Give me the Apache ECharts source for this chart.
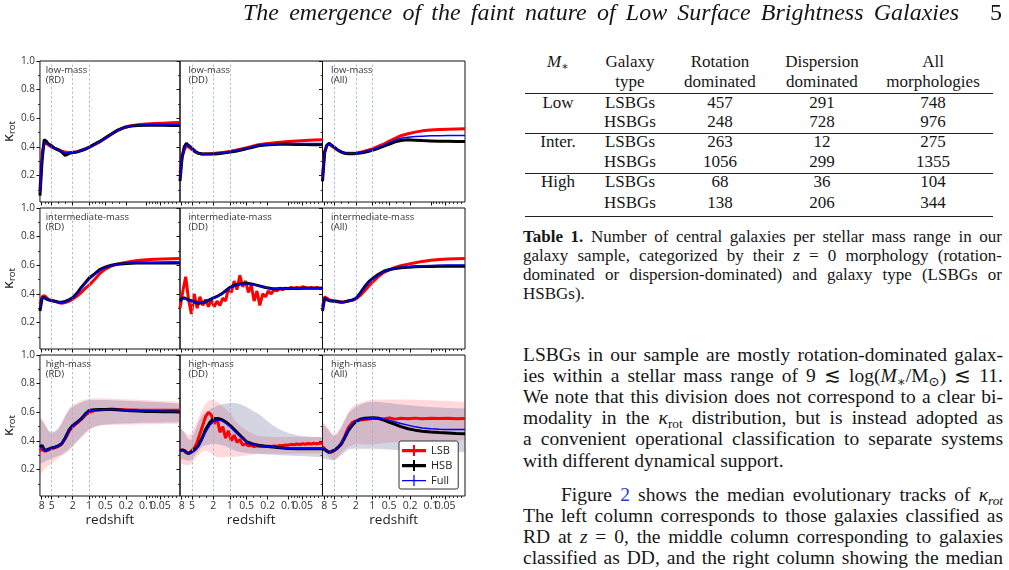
<!DOCTYPE html>
<html>
<head>
<meta charset="utf-8">
<title>kappa_rot tracks</title>
<style>
  body { margin: 0; background: #fff; }
  #page { position: relative; width: 1009px; height: 570px; overflow: hidden; background: #fff; color: #161616;
          font-family: "Liberation Serif", "DejaVu Serif", serif; }
  #main { position: absolute; left: 0; top: 0; width: 515px; height: 570px; }
  .t { position: absolute; white-space: nowrap; line-height: 1; }
  .rule { position: absolute; background: #222; }
  sub { font-size: 68%; vertical-align: -0.28em; line-height: 0; }
  .lnk { color: #2b3bd6; }
</style>
</head>
<body>
<div id="page"><div id="main"></div></div>
<script src="https://cdn.jsdelivr.net/npm/echarts@6/dist/echarts.min.js"></script>
<script>
// x is a position along the (non uniform) redshift axis, 0 = left edge, 100 = z=0
var zTickVal = ['8', '5', '2', '1', '0.5', '0.2', '0.1', '0.05'];
var zTickPos = [1.2, 8.4, 23.4, 35.0, 46.7, 61.5, 76.0, 86.0];
var zMinorPos = [3.6, 6.0, 13.4, 18.4, 37.3, 39.7, 42.0, 44.4, 51.6, 56.6, 78, 80, 82, 84, 88.8, 91.6, 94.4, 97.2];
var zLinePos = [8.4, 23.4, 35.0];
var kTicks = [0.2, 0.4, 0.6, 0.8, 1.0];
var kMinor = [0.1, 0.3, 0.5, 0.7, 0.9];

var U = [0, 1.5, 3, 4.5, 6, 8, 10.5, 13, 15.5, 18, 21, 23.5, 26.5, 29.5, 32.5, 35.5, 39, 43, 47, 51, 55, 60, 65, 70, 76, 82, 88, 94, 100];
var UF = [0, 2, 4, 6, 8, 10, 12, 14, 16, 18, 20, 22, 24, 26, 28, 30, 32, 34, 36, 38, 40, 42, 44, 46, 48, 50,
          52, 54, 56, 58, 60, 62, 64, 66, 68, 70, 72, 74, 76, 78, 80, 82, 84, 86, 88, 90, 92, 94, 96, 98, 100];

// low mass
var lowRD_LSB = [0.10, 0.36, 0.42, 0.425, 0.415, 0.40, 0.39, 0.38, 0.37, 0.365, 0.36, 0.362, 0.367, 0.375, 0.385, 0.398, 0.415, 0.437, 0.462, 0.488, 0.512, 0.535, 0.548, 0.555, 0.56, 0.563, 0.566, 0.568, 0.57];
var lowRD_HSB = [0.06, 0.30, 0.45, 0.44, 0.42, 0.41, 0.39, 0.38, 0.365, 0.34, 0.355, 0.36, 0.365, 0.375, 0.385, 0.40, 0.42, 0.44, 0.465, 0.49, 0.515, 0.535, 0.545, 0.55, 0.552, 0.552, 0.551, 0.55, 0.55];
var lowRD_Full = [0.08, 0.34, 0.42, 0.43, 0.415, 0.40, 0.39, 0.378, 0.367, 0.358, 0.358, 0.36, 0.366, 0.375, 0.385, 0.398, 0.416, 0.438, 0.463, 0.489, 0.513, 0.535, 0.546, 0.552, 0.555, 0.556, 0.557, 0.557, 0.557];

var lowDD_LSB = [0.22, 0.33, 0.38, 0.41, 0.40, 0.385, 0.365, 0.355, 0.35, 0.35, 0.352, 0.354, 0.357, 0.36, 0.365, 0.37, 0.376, 0.385, 0.395, 0.405, 0.415, 0.422, 0.428, 0.433, 0.437, 0.441, 0.445, 0.448, 0.45];
var lowDD_HSB = [0.16, 0.33, 0.40, 0.425, 0.41, 0.395, 0.37, 0.355, 0.35, 0.35, 0.35, 0.35, 0.352, 0.356, 0.36, 0.365, 0.37, 0.378, 0.388, 0.398, 0.408, 0.413, 0.416, 0.418, 0.418, 0.417, 0.416, 0.415, 0.415];
var lowDD_Full = [0.18, 0.32, 0.39, 0.415, 0.405, 0.39, 0.368, 0.355, 0.35, 0.35, 0.35, 0.352, 0.355, 0.358, 0.362, 0.367, 0.373, 0.381, 0.391, 0.401, 0.411, 0.417, 0.42, 0.422, 0.423, 0.423, 0.423, 0.423, 0.423];

var lowAll_LSB = [0.20, 0.37, 0.41, 0.42, 0.41, 0.395, 0.378, 0.365, 0.358, 0.355, 0.355, 0.357, 0.362, 0.37, 0.378, 0.388, 0.403, 0.42, 0.44, 0.46, 0.478, 0.492, 0.503, 0.512, 0.518, 0.521, 0.523, 0.525, 0.527];
var lowAll_HSB = [0.16, 0.36, 0.41, 0.425, 0.415, 0.40, 0.38, 0.365, 0.355, 0.352, 0.352, 0.353, 0.357, 0.363, 0.37, 0.378, 0.39, 0.405, 0.42, 0.435, 0.445, 0.45, 0.447, 0.444, 0.442, 0.44, 0.439, 0.438, 0.438];
var lowAll_Full = [0.18, 0.36, 0.41, 0.42, 0.412, 0.398, 0.38, 0.365, 0.356, 0.353, 0.353, 0.355, 0.36, 0.366, 0.374, 0.383, 0.396, 0.412, 0.43, 0.447, 0.46, 0.468, 0.472, 0.475, 0.477, 0.478, 0.479, 0.48, 0.48];

// intermediate mass
var intRD_LSB = [0.33, 0.38, 0.388, 0.375, 0.362, 0.355, 0.35, 0.34, 0.335, 0.34, 0.35, 0.365, 0.385, 0.41, 0.44, 0.465, 0.50, 0.545, 0.575, 0.595, 0.608, 0.618, 0.626, 0.633, 0.638, 0.642, 0.644, 0.646, 0.647];
var intRD_HSB = [0.28, 0.37, 0.375, 0.365, 0.358, 0.353, 0.348, 0.344, 0.342, 0.348, 0.36, 0.375, 0.405, 0.445, 0.48, 0.515, 0.54, 0.572, 0.588, 0.60, 0.607, 0.611, 0.614, 0.616, 0.616, 0.616, 0.616, 0.616, 0.616];
var intRD_Full = [0.30, 0.37, 0.378, 0.368, 0.36, 0.354, 0.348, 0.343, 0.34, 0.345, 0.357, 0.372, 0.40, 0.437, 0.472, 0.505, 0.533, 0.566, 0.585, 0.598, 0.607, 0.612, 0.616, 0.618, 0.619, 0.62, 0.621, 0.622, 0.622];

var intDD_LSB = [0.30, 0.42, 0.52, 0.36, 0.26, 0.40, 0.30, 0.38, 0.32, 0.36, 0.31, 0.36, 0.31, 0.35, 0.32, 0.37, 0.35, 0.44, 0.41, 0.49,
                 0.43, 0.53, 0.45, 0.49, 0.41, 0.46, 0.35, 0.42, 0.32, 0.40, 0.38, 0.42, 0.40, 0.43, 0.42, 0.44, 0.43, 0.44, 0.435, 0.445,
                 0.44, 0.445, 0.44, 0.45, 0.445, 0.44, 0.445, 0.44, 0.445, 0.44, 0.44];
var intDD_HSB = [0.35, 0.368, 0.372, 0.365, 0.358, 0.352, 0.342, 0.335, 0.338, 0.345, 0.36, 0.372, 0.385, 0.402, 0.425, 0.448, 0.462, 0.47, 0.475, 0.468, 0.458, 0.445, 0.436, 0.436, 0.437, 0.438, 0.439, 0.44, 0.44];
var intDD_Full = [0.345, 0.362, 0.368, 0.362, 0.356, 0.35, 0.34, 0.334, 0.337, 0.344, 0.358, 0.37, 0.383, 0.40, 0.423, 0.446, 0.46, 0.468, 0.472, 0.466, 0.456, 0.444, 0.436, 0.436, 0.437, 0.438, 0.439, 0.44, 0.44];

var intAll_LSB = [0.31, 0.38, 0.37, 0.36, 0.355, 0.352, 0.348, 0.343, 0.345, 0.35, 0.355, 0.365, 0.39, 0.42, 0.455, 0.485, 0.52, 0.55, 0.567, 0.585, 0.597, 0.608, 0.617, 0.627, 0.635, 0.64, 0.643, 0.645, 0.647];
var intAll_HSB = [0.28, 0.37, 0.36, 0.353, 0.35, 0.348, 0.345, 0.342, 0.344, 0.35, 0.358, 0.368, 0.405, 0.45, 0.485, 0.51, 0.535, 0.558, 0.57, 0.578, 0.583, 0.586, 0.589, 0.591, 0.592, 0.593, 0.593, 0.593, 0.593];
var intAll_Full = [0.29, 0.37, 0.362, 0.355, 0.351, 0.349, 0.346, 0.342, 0.344, 0.35, 0.357, 0.367, 0.40, 0.443, 0.478, 0.505, 0.532, 0.557, 0.571, 0.58, 0.586, 0.59, 0.594, 0.597, 0.599, 0.60, 0.601, 0.602, 0.602];

// high mass
var highRD_LSB = [0.33, 0.345, 0.33, 0.33, 0.335, 0.345, 0.352, 0.36, 0.378, 0.415, 0.47, 0.50, 0.525, 0.55, 0.58, 0.60, 0.612, 0.616, 0.62, 0.622, 0.62, 0.618, 0.616, 0.615, 0.614, 0.614, 0.614, 0.614, 0.614];
var highRD_HSB = [0.357, 0.369, 0.338, 0.335, 0.342, 0.35, 0.356, 0.365, 0.38, 0.42, 0.48, 0.51, 0.53, 0.555, 0.59, 0.614, 0.618, 0.619, 0.62, 0.62, 0.618, 0.614, 0.611, 0.608, 0.606, 0.605, 0.604, 0.603, 0.602];
var highRD_Full = [0.35, 0.36, 0.335, 0.333, 0.34, 0.348, 0.355, 0.364, 0.38, 0.418, 0.477, 0.508, 0.528, 0.553, 0.587, 0.61, 0.616, 0.618, 0.62, 0.62, 0.619, 0.616, 0.613, 0.611, 0.609, 0.608, 0.607, 0.606, 0.605];
var highRD_LSB_hi = [0.567, 0.55, 0.53, 0.50, 0.47, 0.45, 0.46, 0.49, 0.53, 0.58, 0.63, 0.65, 0.665, 0.68, 0.69, 0.696, 0.697, 0.697, 0.696, 0.695, 0.693, 0.691, 0.689, 0.687, 0.684, 0.681, 0.678, 0.675, 0.672];
var highRD_LSB_lo = [0.158, 0.18, 0.20, 0.215, 0.225, 0.239, 0.26, 0.28, 0.295, 0.31, 0.335, 0.357, 0.39, 0.42, 0.45, 0.474, 0.495, 0.509, 0.51, 0.511, 0.512, 0.513, 0.514, 0.515, 0.516, 0.517, 0.518, 0.519, 0.52];
var highRD_HSB_hi = [0.555, 0.54, 0.52, 0.495, 0.475, 0.46, 0.465, 0.48, 0.52, 0.57, 0.62, 0.64, 0.655, 0.67, 0.68, 0.685, 0.686, 0.686, 0.685, 0.684, 0.683, 0.681, 0.679, 0.677, 0.674, 0.671, 0.668, 0.664, 0.66];
var highRD_HSB_lo = [0.239, 0.245, 0.25, 0.26, 0.268, 0.275, 0.285, 0.295, 0.305, 0.32, 0.345, 0.37, 0.40, 0.43, 0.46, 0.485, 0.50, 0.51, 0.515, 0.518, 0.52, 0.522, 0.524, 0.525, 0.526, 0.527, 0.528, 0.529, 0.53];

var highDD_LSB = [0.33, 0.34, 0.32, 0.31, 0.33, 0.35, 0.39, 0.45, 0.51, 0.57, 0.60, 0.58, 0.52, 0.56, 0.46, 0.50, 0.42, 0.47, 0.40, 0.44,
                  0.39, 0.41, 0.37, 0.38, 0.365, 0.37, 0.36, 0.365, 0.36, 0.362, 0.36, 0.362, 0.36, 0.365, 0.362, 0.368, 0.366, 0.372, 0.37, 0.376,
                  0.373, 0.378, 0.375, 0.38, 0.377, 0.382, 0.378, 0.383, 0.38, 0.383, 0.383];
var highDD_HSB = [0.333, 0.335, 0.333, 0.32, 0.312, 0.322, 0.34, 0.37, 0.42, 0.48, 0.53, 0.555, 0.556, 0.548, 0.53, 0.505, 0.47, 0.43, 0.392, 0.378, 0.369, 0.363, 0.357, 0.352, 0.347, 0.345, 0.345, 0.345, 0.345];
var highDD_Full = [0.33, 0.33, 0.328, 0.318, 0.31, 0.318, 0.333, 0.36, 0.405, 0.46, 0.51, 0.535, 0.545, 0.54, 0.52, 0.495, 0.46, 0.425, 0.39, 0.376, 0.368, 0.362, 0.357, 0.352, 0.348, 0.346, 0.346, 0.346, 0.346];
var highDD_LSB_hi = [0.485, 0.475, 0.465, 0.45, 0.44, 0.45, 0.50, 0.56, 0.62, 0.66, 0.685, 0.685, 0.67, 0.645, 0.62, 0.59, 0.54, 0.50, 0.47, 0.45, 0.435, 0.43, 0.428, 0.427, 0.427, 0.427, 0.427, 0.427, 0.427];
var highDD_LSB_lo = [0.239, 0.237, 0.235, 0.23, 0.228, 0.24, 0.27, 0.30, 0.325, 0.333, 0.32, 0.30, 0.286, 0.285, 0.288, 0.29, 0.29, 0.295, 0.30, 0.305, 0.31, 0.31, 0.31, 0.31, 0.31, 0.31, 0.31, 0.31, 0.31];
var highDD_HSB_hi = [0.50, 0.48, 0.46, 0.43, 0.41, 0.41, 0.47, 0.53, 0.58, 0.60, 0.62, 0.635, 0.648, 0.655, 0.662, 0.666, 0.665, 0.655, 0.635, 0.61, 0.59, 0.55, 0.51, 0.48, 0.455, 0.44, 0.432, 0.428, 0.427];
var highDD_HSB_lo = [0.274, 0.272, 0.27, 0.265, 0.26, 0.265, 0.30, 0.33, 0.36, 0.37, 0.375, 0.38, 0.376, 0.37, 0.36, 0.345, 0.33, 0.32, 0.315, 0.31, 0.31, 0.305, 0.303, 0.30, 0.298, 0.295, 0.292, 0.289, 0.286];

var highAll_LSB = [0.36, 0.345, 0.33, 0.318, 0.32, 0.33, 0.35, 0.38, 0.43, 0.49, 0.53, 0.54, 0.545, 0.55, 0.553, 0.556, 0.558, 0.553, 0.56, 0.552, 0.558, 0.554, 0.559, 0.555, 0.558, 0.556, 0.558, 0.555, 0.556];
var highAll_HSB = [0.345, 0.34, 0.33, 0.322, 0.325, 0.333, 0.35, 0.375, 0.42, 0.47, 0.51, 0.535, 0.552, 0.558, 0.56, 0.561, 0.558, 0.545, 0.53, 0.515, 0.50, 0.485, 0.475, 0.468, 0.462, 0.458, 0.455, 0.452, 0.45];
var highAll_Full = [0.35, 0.342, 0.33, 0.32, 0.323, 0.332, 0.35, 0.377, 0.425, 0.478, 0.518, 0.537, 0.55, 0.556, 0.558, 0.56, 0.559, 0.553, 0.543, 0.532, 0.521, 0.51, 0.498, 0.49, 0.484, 0.481, 0.48, 0.48, 0.48];
var highAll_LSB_hi = [0.532, 0.52, 0.50, 0.48, 0.46, 0.445, 0.46, 0.50, 0.55, 0.60, 0.64, 0.655, 0.665, 0.675, 0.683, 0.687, 0.689, 0.69, 0.69, 0.69, 0.69, 0.689, 0.688, 0.686, 0.684, 0.681, 0.678, 0.675, 0.672];
var highAll_LSB_lo = [0.33, 0.315, 0.30, 0.285, 0.275, 0.263, 0.28, 0.31, 0.34, 0.357, 0.37, 0.38, 0.378, 0.375, 0.375, 0.375, 0.38, 0.385, 0.387, 0.39, 0.392, 0.394, 0.396, 0.398, 0.40, 0.401, 0.402, 0.403, 0.404];
var highAll_HSB_hi = [0.52, 0.505, 0.49, 0.47, 0.45, 0.43, 0.45, 0.49, 0.54, 0.59, 0.62, 0.64, 0.655, 0.665, 0.672, 0.673, 0.672, 0.668, 0.665, 0.66, 0.655, 0.65, 0.645, 0.641, 0.637, 0.633, 0.63, 0.628, 0.626];
var highAll_HSB_lo = [0.275, 0.273, 0.27, 0.268, 0.265, 0.263, 0.28, 0.30, 0.32, 0.34, 0.345, 0.345, 0.345, 0.345, 0.345, 0.345, 0.344, 0.342, 0.34, 0.337, 0.335, 0.332, 0.33, 0.328, 0.326, 0.325, 0.323, 0.322, 0.321];

// table 1
var tabHead1 = ['<i>M</i><sub>∗</sub>', 'Galaxy', 'Rotation', 'Dispersion', 'All'];
var tabHead2 = ['', 'type', 'dominated', 'dominated', 'morphologies'];
var massRange = ['Low', '', 'Inter.', '', 'High', ''];
var galType = ['LSBGs', 'HSBGs', 'LSBGs', 'HSBGs', 'LSBGs', 'HSBGs'];
var rotDom = [457, 248, 263, 1056, 68, 138];
var dispDom = [291, 728, 12, 299, 36, 206];
var allMorph = [748, 976, 275, 1355, 104, 344];

var RED = '#ff0000', BLACK = '#000000', BLUE = '#0000ff';
var PINK = 'rgba(255,30,40,0.17)', GREYBLUE = 'rgba(70,80,140,0.24)';
var sans = '"Open Sans", "Noto Sans", sans-serif';

var panels = [
  {txt: 'low-mass\n(RD)', lsb: lowRD_LSB, hsb: lowRD_HSB, full: lowRD_Full},
  {txt: 'low-mass\n(DD)', lsb: lowDD_LSB, hsb: lowDD_HSB, full: lowDD_Full},
  {txt: 'low-mass\n(All)', lsb: lowAll_LSB, hsb: lowAll_HSB, full: lowAll_Full},
  {txt: 'intermediate-mass\n(RD)', lsb: intRD_LSB, hsb: intRD_HSB, full: intRD_Full},
  {txt: 'intermediate-mass\n(DD)', lsb: intDD_LSB, lsbX: UF, hsb: intDD_HSB, full: intDD_Full},
  {txt: 'intermediate-mass\n(All)', lsb: intAll_LSB, hsb: intAll_HSB, full: intAll_Full},
  {txt: 'high-mass\n(RD)', lsb: highRD_LSB, hsb: highRD_HSB, full: highRD_Full,
   bands: [[highRD_LSB_lo, highRD_LSB_hi, PINK], [highRD_HSB_lo, highRD_HSB_hi, GREYBLUE]]},
  {txt: 'high-mass\n(DD)', lsb: highDD_LSB, lsbX: UF, hsb: highDD_HSB, full: highDD_Full,
   bands: [[highDD_LSB_lo, highDD_LSB_hi, PINK], [highDD_HSB_lo, highDD_HSB_hi, GREYBLUE]]},
  {txt: 'high-mass\n(All)', lsb: highAll_LSB, hsb: highAll_HSB, full: highAll_Full,
   bands: [[highAll_LSB_lo, highAll_LSB_hi, PINK], [highAll_HSB_lo, highAll_HSB_hi, GREYBLUE]]}
];

var colLeft = [37.3, 180, 322.5], colW = [142.7, 142.5, 142.5];
var rowTop = [61, 208, 355], rowH = 141;

function pairs(xs, ys) {
  return xs.map(function (x, i) { return [x, ys[i]]; });
}
function zLabel(v) {
  for (var k = 0; k < zTickPos.length; k++) {
    if (Math.abs(zTickPos[k] - v) < 1e-6) return zTickVal[k];
  }
  return '';
}
// shaded percentile band, one polygon through the axis scales
function band(xi, yi, lo, hi, color) {
  return {
    type: 'custom', xAxisIndex: xi, yAxisIndex: yi, silent: true, z: 1,
    data: U.map(function (x, k) { return [x, lo[k], hi[k]]; }),
    encode: {x: 0, y: [1, 2]},
    renderItem: function (params, api) {
      if (params.dataIndex !== 0) return null;
      var pts = [], k;
      for (k = 0; k < U.length; k++) pts.push(api.coord([U[k], hi[k]]));
      for (k = U.length - 1; k >= 0; k--) pts.push(api.coord([U[k], lo[k]]));
      return {type: 'polygon', shape: {points: pts}, style: {fill: color}};
    }
  };
}

var grids = [], xAxes = [], yAxes = [], series = [], texts = [];
var lastLabel = zTickPos.slice(-1);      // "0.05" sits on the second axis so it is not dropped as an overlap
var mainLabels = zTickPos.slice(0, -1);

panels.forEach(function (p, i) {
  var r = Math.floor(i / 3), c = i % 3;
  grids.push({left: colLeft[c], top: rowTop[r], width: colW[c], height: rowH,
              show: true, borderColor: '#111', borderWidth: 1, containLabel: false});
  // main x axis + a second one for minor ticks
  xAxes.push({
    gridIndex: i, type: 'value', min: 0, max: 100,
    axisLine: {show: false}, splitLine: {show: false},
    axisTick: {show: true, customValues: zTickPos, length: 3.5, lineStyle: {color: '#111', width: 1}},
    axisLabel: {show: r === 2, customValues: mainLabels, formatter: zLabel, margin: 5, hideOverlap: false,
                color: '#333', fontSize: 10.5, fontFamily: sans},
    name: r === 2 ? 'redshift' : '', nameLocation: 'middle', nameGap: 15,
    nameTextStyle: {fontSize: 13.5, color: '#222', fontFamily: sans}
  });
  xAxes.push({
    gridIndex: i, type: 'value', min: 0, max: 100, position: 'bottom',
    axisLine: {show: false}, splitLine: {show: false},
    axisLabel: {show: r === 2, customValues: lastLabel, formatter: zLabel, margin: 5, hideOverlap: false,
                color: '#333', fontSize: 10.5, fontFamily: sans},
    axisTick: {show: true, customValues: zMinorPos, length: 2, lineStyle: {color: '#111', width: 0.8}}
  });
  yAxes.push({
    gridIndex: i, type: 'value', min: 0.015, max: 1,
    axisLine: {show: false}, splitLine: {show: false},
    axisTick: {show: true, customValues: kTicks, length: 3.5, lineStyle: {color: '#111', width: 1}},
    axisLabel: {show: c === 0, customValues: kTicks, margin: 5, color: '#333', fontSize: 10, fontFamily: sans,
                formatter: function (v) { return v.toFixed(1); }},
    name: c === 0 ? 'κ{s|rot}' : '', nameLocation: 'middle', nameRotate: 90, nameGap: 20,
    nameTextStyle: {fontSize: 15, color: '#222', fontFamily: sans,
                    rich: {s: {fontSize: 9.5, fontFamily: sans, color: '#222', padding: [7, 0, 0, 0]}}}
  });
  yAxes.push({
    gridIndex: i, type: 'value', min: 0.015, max: 1, position: 'left',
    axisLine: {show: false}, splitLine: {show: false}, axisLabel: {show: false},
    axisTick: {show: true, customValues: kMinor, length: 2, lineStyle: {color: '#111', width: 0.8}}
  });
  var xi = i * 2, yi = i * 2;

  (p.bands || []).forEach(function (b) {
    series.push(band(xi, yi, b[0], b[1], b[2]));
  });

  // dashed reference redshifts
  series.push({type: 'line', xAxisIndex: xi, yAxisIndex: yi, data: [], silent: true, z: 1,
    markLine: {silent: true, symbol: 'none', label: {show: false}, animation: false,
      lineStyle: {type: [2.5, 2], color: '#9fb0d2', width: 0.8},
      data: zLinePos.map(function (v) { return {xAxis: v}; })}});

  series.push({name: 'LSB', type: 'line', xAxisIndex: xi, yAxisIndex: yi, symbol: 'none', z: 3,
               data: pairs(p.lsbX || U, p.lsb), lineStyle: {color: RED, width: 3}, itemStyle: {color: RED}});
  series.push({name: 'HSB', type: 'line', xAxisIndex: xi, yAxisIndex: yi, symbol: 'none', z: 4,
               data: pairs(U, p.hsb), lineStyle: {color: BLACK, width: 3}, itemStyle: {color: BLACK}});
  series.push({name: 'Full', type: 'line', xAxisIndex: xi, yAxisIndex: yi, symbol: 'none', z: 5,
               data: pairs(U, p.full), lineStyle: {color: BLUE, width: 1.5}, itemStyle: {color: BLUE}});

  texts.push({type: 'text', x: colLeft[c] + 8.4, y: rowTop[r] + 4.6, z: 10,
              style: {text: p.txt, fontSize: 9.5, fontFamily: sans, fill: '#333', lineHeight: 9.5}});
});

var myChart = echarts.init(document.getElementById('main'), null, {renderer: 'canvas'});
myChart.setOption({
  animation: false,
  grid: grids,
  xAxis: xAxes,
  yAxis: yAxes,
  series: series,
  graphic: texts,
  legend: {
    left: 399, top: 441, orient: 'vertical', selectedMode: false,
    itemWidth: 24, itemHeight: 11, itemGap: 4, padding: [4, 6, 3, 3],
    backgroundColor: '#fff', borderColor: '#333', borderWidth: 1, borderRadius: 2,
    textStyle: {fontSize: 11, color: '#222', fontFamily: sans},
    data: [
      {name: 'LSB', icon: 'path://M0,4h24v3.2h-24z M11,0h2v11h-2z'},
      {name: 'HSB', icon: 'path://M0,4h24v3.2h-24z M11,0h2v11h-2z'},
      {name: 'Full', icon: 'path://M0,5h24v1.3h-24z M11.4,0h1.2v11h-1.2z'}
    ]
  }
});

// ---- right hand side of the page: running header, table, caption, text ----
var page = document.getElementById('page');
function put(html, x, y, size, opts) {
  opts = opts || {};
  var el = document.createElement('div');
  el.className = 't';
  el.innerHTML = html;
  el.style.fontSize = size + 'px';
  if (opts.italic) el.style.fontStyle = 'italic';
  page.appendChild(el);
  var w = el.getBoundingClientRect().width;
  if (opts.width) {
    var n = (el.textContent.match(/ /g) || []).length;
    if (n) el.style.wordSpacing = ((opts.width - w) / n) + 'px';
    w = opts.width;
  }
  el.style.left = (opts.center ? x - w / 2 : x) + 'px';
  el.style.top = (y - 0.61 * size) + 'px';
  return el;
}
function rule(y, h) {
  var d = document.createElement('div');
  d.className = 'rule';
  d.style.left = '525px'; d.style.width = '468px';
  d.style.top = (y - h / 2) + 'px'; d.style.height = h + 'px';
  page.appendChild(d);
}

put('The emergence of the faint nature of Low Surface Brightness Galaxies', 243, 15, 24, {italic: true, width: 716});
put('5', 996, 15, 24, {center: true});

var colX = [558, 630, 720, 822, 933];
var tabFs = 17;
tabHead1.forEach(function (s, k) { put(s, colX[k], 63, tabFs, {center: true}); });
tabHead2.forEach(function (s, k) { if (s) put(s, colX[k], 83, tabFs, {center: true}); });
var rowY = [104, 123, 143, 163, 183, 204];
rowY.forEach(function (y, k) {
  if (massRange[k]) put(massRange[k], colX[0], y, tabFs, {center: true});
  put(galType[k], colX[1], y, tabFs, {center: true});
  put(String(rotDom[k]), colX[2], y, tabFs, {center: true});
  put(String(dispDom[k]), colX[3], y, tabFs, {center: true});
  put(String(allMorph[k]), colX[4], y, tabFs, {center: true});
});
rule(93.3, 1.3); rule(133.3, 0.9); rule(173.3, 0.9); rule(216.8, 1.3);

var capFs = 17, capW = 479;
put('<b>Table 1.</b> Number of central galaxies per stellar mass range in our', 523, 238, capFs, {width: capW});
put('galaxy sample, categorized by their <i>z</i> = 0 morphology (rotation-', 523, 257, capFs, {width: capW});
put('dominated or dispersion-dominated) and galaxy type (LSBGs or', 523, 276, capFs, {width: capW});
put('HSBGs).', 523, 295.5, capFs);

var txFs = 19.5, txW = 480;
put('LSBGs in our sample are mostly rotation-dominated galax-', 523, 357, txFs, {width: txW});
put('ies within a stellar mass range of 9 ≲ log(<i>M</i><sub>∗</sub>/M<sub>⊙</sub>) ≲ 11.', 523, 378, txFs, {width: txW});
put('We note that this division does not correspond to a clear bi-', 523, 399, txFs, {width: txW});
put('modality in the <i>κ</i><sub>rot</sub> distribution, but is instead adopted as', 523, 420, txFs, {width: txW});
put('a convenient operational classification to separate systems', 523, 441, txFs, {width: txW});
put('with different dynamical support.', 523, 463, txFs);
put('Figure <span class="lnk">2</span> shows the median evolutionary tracks of <i>κ<sub>rot</sub></i>', 561, 497, txFs, {width: 442});
put('The left column corresponds to those galaxies classified as', 523, 518, txFs, {width: txW});
put('RD at <i>z</i> = 0, the middle column corresponding to galaxies', 523, 539, txFs, {width: txW});
put('classified as DD, and the right column showing the median', 523, 560, txFs, {width: txW});
</script>
</body>
</html>
